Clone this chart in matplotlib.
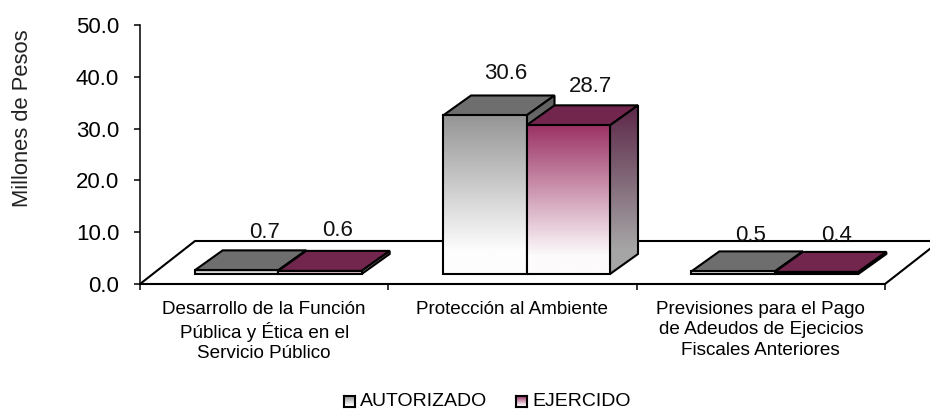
import matplotlib
matplotlib.use('Agg')
import matplotlib.pyplot as plt
import numpy as np
from matplotlib.colors import LinearSegmentedColormap
from matplotlib.patches import Polygon

plt.rcParams['font.family'] = ['Liberation Sans', 'DejaVu Sans']

categories = ['Desarrollo de la Función\nPública y Ética en el\nServicio Público',
              'Protección al Ambiente',
              'Previsiones para el Pago\nde Adeudos de Ejecicios\nFiscales Anteriores']
autorizado = [0.7, 30.6, 0.5]
ejercido = [0.6, 28.7, 0.4]
y_ticks = [0, 10, 20, 30, 40, 50]

W, H = 930, 409
fig = plt.figure(figsize=(W / 100, H / 100), dpi=100)
ax = fig.add_axes([140 / W, 1 - 284 / H, 745 / W, 259 / H])
ax.set_xlim(0, 3)
ax.set_ylim(0, 50)

# pixel sizes turned into data units
px_x = 3 / 745
px_y = 50 / 259
depth_x, depth_y = 28 * px_x, 20 * px_y
base_y = 10 * px_y
bar_w = 83.5 * px_x
shift_x = 14 * px_x


def gradient(top, bottom, hold=1.0):
    return LinearSegmentedColormap.from_list('g', [(0, top), (hold, bottom), (1, bottom)])


def shaded(poly, extent, cmap, z):
    patch = Polygon(poly, closed=True, fc='none', ec='black', lw=1.5, clip_on=False, zorder=z + 0.5)
    ax.add_patch(patch)
    img = ax.imshow(np.linspace(0, 1, 128).reshape(-1, 1), cmap=cmap, extent=extent,
                    aspect='auto', origin='upper', zorder=z)
    img.set_clip_path(patch)


def draw_bar(x0, h, front, side, top_color, z):
    x1 = x0 + bar_w
    y0, y1 = base_y, base_y + h
    # top and side first, front face goes over them
    ax.add_patch(Polygon([(x0, y1), (x1, y1), (x1 + depth_x, y1 + depth_y), (x0 + depth_x, y1 + depth_y)],
                         fc=top_color, ec='black', lw=1.5, clip_on=False, zorder=z))
    shaded([(x1, y0), (x1 + depth_x, y0 + depth_y), (x1 + depth_x, y1 + depth_y), (x1, y1)],
           [x1, x1 + depth_x, y0, y1 + depth_y], side, z + 1)
    shaded([(x0, y0), (x1, y0), (x1, y1), (x0, y1)], [x0, x1, y0, y1], front, z + 2)


# floor of the 3d box
floor_dx, floor_dy = 55 * px_x, 43 * px_y
ax.add_patch(Polygon([(0, 0), (3, 0), (3 + floor_dx, floor_dy), (floor_dx, floor_dy)],
                     fc='white', ec='black', lw=1.5, clip_on=False, zorder=1))

gray_front = gradient('#959595', '#fdfdfd', 0.85)
gray_side = gradient('#5f5f5f', '#a5a5a5')
red_front = gradient('#9c3366', '#fdfbfc', 0.88)
red_side = gradient('#5c2748', '#a5a5a5', 0.85)

label_dx = [[28, 18], [21, 22], [17, 20]]
label_dy = [[18, 20], [22, 19], [16, 16]]
z = 2
for i in range(3):
    left = i + 0.5 - bar_w + shift_x
    for j, (vals, front, side, top) in enumerate([(autorizado, gray_front, gray_side, '#6e6e6e'),
                                                  (ejercido, red_front, red_side, '#72264e')]):
        x0 = left + j * bar_w
        draw_bar(x0, vals[i], front, side, top, z)
        z += 3
        ax.annotate('{:.1f}'.format(vals[i]),
                    xy=(x0 + bar_w / 2, base_y + vals[i] + depth_y),
                    xytext=(label_dx[i][j] * 0.72, label_dy[i][j] * 0.72),
                    textcoords='offset points', ha='center', va='center',
                    fontsize=16, color='#111111', zorder=50, annotation_clip=False)

ax.set_xlim(0, 3)
ax.set_ylim(0, 50)
for s in ['top', 'right']:
    ax.spines[s].set_visible(False)
for s in ['left', 'bottom']:
    ax.spines[s].set_linewidth(1.1)
    ax.spines[s].set_zorder(40)
ax.patch.set_visible(False)

ax.set_yticks(y_ticks)
ax.set_yticklabels(['{:.1f}'.format(v) for v in y_ticks], fontsize=16)
ax.set_xticks([0, 1, 2, 3])
ax.set_xticklabels([])
ax.tick_params(axis='both', length=4, width=1.1, direction='out')
ax.tick_params(axis='y', pad=11)
for i, name in enumerate(categories):
    ax.annotate(name, xy=(i + 0.5, 0), xytext=(0, -12), textcoords='offset points',
                ha='center', va='top', fontsize=13.6, linespacing=1.27, annotation_clip=False)

fig.text(23 / W, 1 - 118 / H, 'Millones de Pesos', rotation=90, ha='center', va='center',
         fontsize=15.8, color='#222222')

# legend
for px, name, cmap in [(344, 'AUTORIZADO', gray_front), (516, 'EJERCIDO', red_front)]:
    sw = fig.add_axes([px / W, 1 - 407 / H, 11 / W, 11 / H])
    sw.imshow(np.linspace(0, 1, 32).reshape(-1, 1), cmap=cmap, aspect='auto')
    sw.set_xticks([])
    sw.set_yticks([])
    for s in sw.spines.values():
        s.set_linewidth(1.5)
    fig.text((px + 16) / W, 1 - 401 / H, name, ha='left', va='center', fontsize=14)

fig.savefig('out.png', dpi=100)
